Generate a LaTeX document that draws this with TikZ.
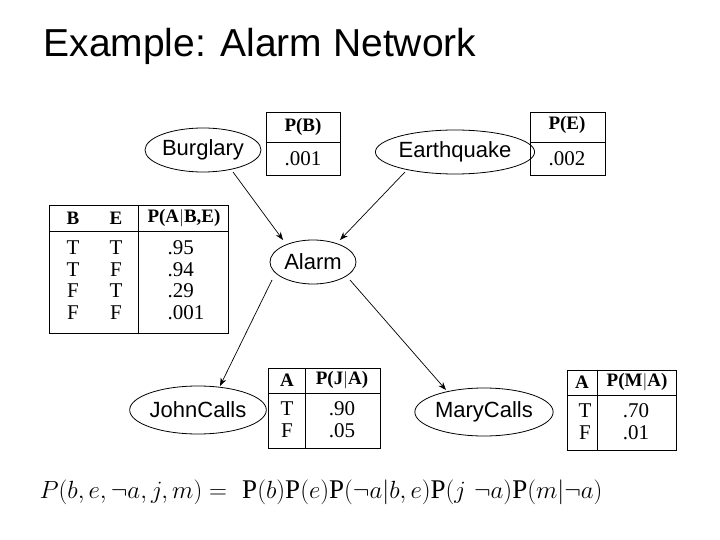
\documentclass[tikz,border=0pt]{standalone}
\usepackage{fontspec}
\usepackage{amssymb}
\setmainfont{Liberation Serif}
\newfontfamily\sansf{Liberation Sans}
\usetikzlibrary{shapes.geometric,arrows.meta}
\begin{document}
\begin{tikzpicture}[x=1pt,y=-1pt,
  ell/.style={draw,ellipse,line width=0.8pt,font=\sansf\fontsize{22}{22}\selectfont,inner sep=0pt},
  arr/.style={-{Stealth[length=8pt,width=6pt]},line width=0.7pt},
  tb/.style={line width=0.9pt},
  tt/.style={font=\fontsize{21}{21.5}\selectfont},
  th/.style={font=\bfseries\fontsize{19}{19}\selectfont}]
\useasboundingbox (0,0) rectangle (720,540);
\node[anchor=west,font=\sansf\fontsize{39}{39}\selectfont] (title) at (40,46) {Example: Alarm Network};
\node[ell,minimum width=116pt,minimum height=44pt] (B) at (203,150) {Burglary};
\node[ell,minimum width=156pt,minimum height=44pt] (E) at (455,152) {Earthquake};
\node[ell,minimum width=86pt,minimum height=44pt] (A) at (313,262) {Alarm};
\node[ell,minimum width=124pt,minimum height=48pt] (J) at (198,410) {JohnCalls};
\node[ell,minimum width=124pt,minimum height=48pt] (M) at (484,412) {MaryCalls};
\coordinate (bs) at (233,172); \coordinate (bt) at (283,240);
\coordinate (es) at (405,172); \coordinate (et) at (340,240);
\coordinate (as1) at (272,280); \coordinate (jt) at (220,386);
\coordinate (as2) at (350,280); \coordinate (mt) at (446,390);
\draw[arr] (bs) -- (bt);
\draw[arr] (es) -- (et);
\draw[arr] (as1) -- (jt);
\draw[arr] (as2) -- (mt);
% P(B)
\draw[tb] (266,112) rectangle (340,175); \draw[tb] (266,142) -- (340,142);
\node[th] (pbh) at (303,127) {P(B)}; \node[tt] (pbv) at (303,159) {.001};
% P(E)
\draw[tb] (530,112) rectangle (605,175); \draw[tb] (530,142) -- (605,142);
\node[th] (peh) at (567,125) {P(E)}; \node[tt] (pev) at (567,159) {.002};
% P(A|B,E)
\draw[tb] (49,205) rectangle (228,333); \draw[tb] (49,231) -- (228,231); \draw[tb] (138,205) -- (138,333);
\node[th] (h1) at (73,218) {B}; \node[th] (h2) at (116,218) {E}; \node[th] (h3) at (184,218) {P(A$|$B,E)};
\node[tt,anchor=north] (c1) at (73,236) {\begin{tabular}{@{}c@{}}T\\T\\F\\F\end{tabular}};
\node[tt,anchor=north] (c2) at (116,236) {\begin{tabular}{@{}c@{}}T\\F\\T\\F\end{tabular}};
\node[tt,anchor=north west] (c3) at (164,236) {\begin{tabular}{@{}l@{}}.95\\.94\\.29\\.001\end{tabular}};
% P(J|A)
\draw[tb] (268,368) rectangle (380,448); \draw[tb] (268,393) -- (380,393); \draw[tb] (305,368) -- (305,448);
\node[th] (jh1) at (287,380) {A}; \node[th] (jh2) at (342,380) {P(J$|$A)};
\node[tt,anchor=north] (jc1) at (287,397) {\begin{tabular}{@{}c@{}}T\\F\end{tabular}};
\node[tt,anchor=north] (jc2) at (342,397) {\begin{tabular}{@{}c@{}}.90\\.05\end{tabular}};
% P(M|A)
\draw[tb] (567,370) rectangle (676,450); \draw[tb] (567,395) -- (676,395); \draw[tb] (597,370) -- (597,450);
\node[th] (mh1) at (582,382) {A}; \node[th] (mh2) at (637,382) {P(M$|$A)};
\node[tt,anchor=north] (mc1) at (585,399) {\begin{tabular}{@{}c@{}}T\\F\end{tabular}};
\node[tt,anchor=north] (mc2) at (636,399) {\begin{tabular}{@{}c@{}}.70\\.01\end{tabular}};
% formula
\node[anchor=west,font=\fontsize{27}{27}\selectfont] (f) at (36,492)
 {\fontspec{Latin Modern Roman}$P(b,e,\neg a,j,m) =\ \mathrm{P}(b)\mathrm{P}(e)\mathrm{P}(\neg a|b,e)\mathrm{P}(j\ \neg a)\mathrm{P}(m|\neg a)$};
\end{tikzpicture}
\end{document}
